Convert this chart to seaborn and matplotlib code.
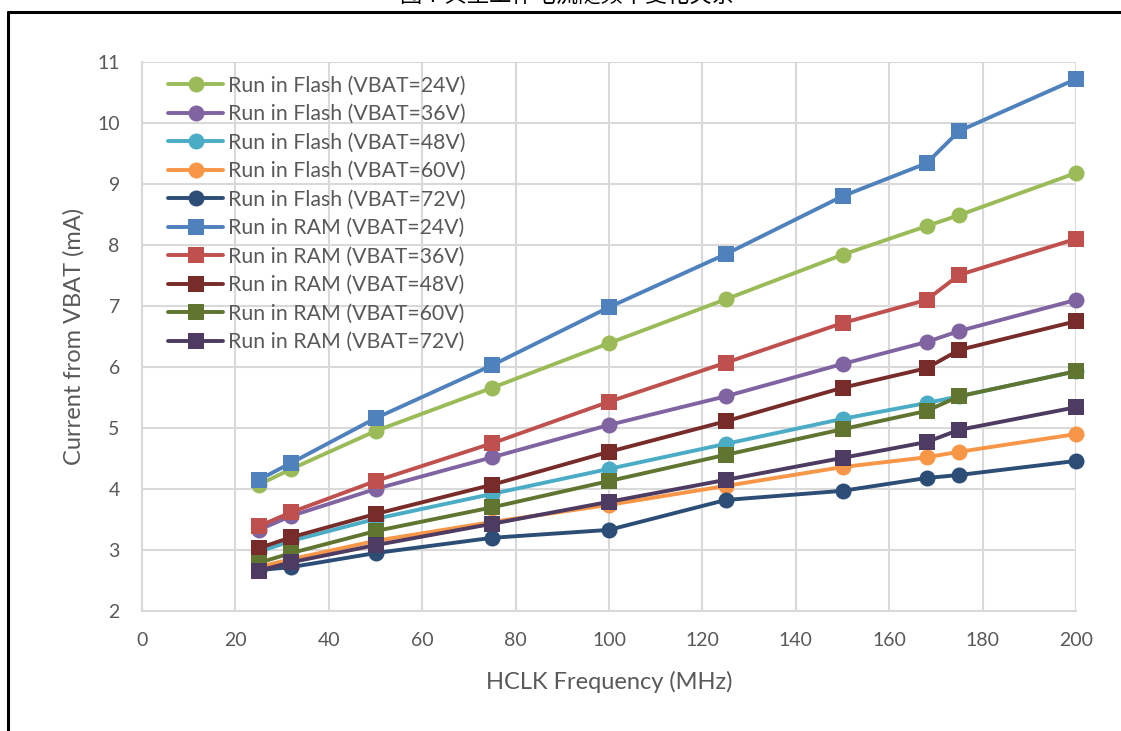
import matplotlib
matplotlib.use("Agg")
import matplotlib.pyplot as plt
import seaborn as sns
from matplotlib.lines import Line2D

# HCLK frequency (MHz)
freq = [25, 32, 50, 75, 100, 125, 150, 168, 175, 200]

# current from VBAT (mA)
flash_24 = [4.07, 4.33, 4.95, 5.66, 6.39, 7.11, 7.84, 8.31, 8.49, 9.18]
flash_36 = [3.33, 3.56, 4.00, 4.52, 5.05, 5.52, 6.05, 6.41, 6.59, 7.10]
flash_48 = [2.97, 3.15, 3.51, 3.92, 4.33, 4.74, 5.15, 5.41, 5.52, 5.93]
flash_60 = [2.72, 2.85, 3.15, 3.46, 3.74, 4.05, 4.36, 4.52, 4.61, 4.90]
flash_72 = [2.67, 2.72, 2.95, 3.20, 3.33, 3.82, 3.97, 4.18, 4.23, 4.46]
ram_24 = [4.15, 4.43, 5.16, 6.03, 6.98, 7.85, 8.80, 9.34, 9.87, 10.72]
ram_36 = [3.39, 3.62, 4.13, 4.75, 5.43, 6.07, 6.72, 7.10, 7.51, 8.10]
ram_48 = [3.03, 3.21, 3.59, 4.07, 4.61, 5.11, 5.66, 5.98, 6.28, 6.75]
ram_60 = [2.79, 2.95, 3.31, 3.70, 4.13, 4.56, 4.98, 5.28, 5.52, 5.93]
ram_72 = [2.66, 2.80, 3.08, 3.43, 3.79, 4.15, 4.51, 4.77, 4.97, 5.34]

labels = ["Run in Flash (VBAT=24V)", "Run in Flash (VBAT=36V)",
          "Run in Flash (VBAT=48V)", "Run in Flash (VBAT=60V)",
          "Run in Flash (VBAT=72V)", "Run in RAM (VBAT=24V)",
          "Run in RAM (VBAT=36V)", "Run in RAM (VBAT=48V)",
          "Run in RAM (VBAT=60V)", "Run in RAM (VBAT=72V)"]
series = [flash_24, flash_36, flash_48, flash_60, flash_72,
          ram_24, ram_36, ram_48, ram_60, ram_72]
colors = ["#9BBB59", "#8064A2", "#4BACC6", "#F79646", "#2C4D75",
          "#4F81BD", "#C0504D", "#772C2A", "#5F7530", "#4D3B62"]
markers = ["o"] * 5 + ["s"] * 5

sns.set_style("white")
plt.rcParams["font.family"] = ["Lato", "Noto Sans CJK SC", "DejaVu Sans"]
grey = "#595959"

fig = plt.figure(figsize=(11.21, 7.31), dpi=100)
ax = fig.add_axes([142 / 1121, 120 / 731, 934 / 1121, 549 / 731])

for vals, lab, col, mk in zip(series, labels, colors, markers):
    sns.lineplot(x=freq, y=vals, ax=ax, color=col, marker=mk, label=lab,
                 linewidth=2.8, markersize=11.5 if mk == "o" else 11,
                 markeredgewidth=0, clip_on=False)

ax.set_xlim(0, 200)
ax.set_ylim(2, 11)
ax.set_xticks(range(0, 201, 20))
ax.set_yticks(range(2, 12))
ax.grid(True, color="#d9d9d9", linewidth=1.5)
ax.set_axisbelow(True)
for s in ["top", "right"]:
    ax.spines[s].set_visible(False)
for s in ["left", "bottom"]:
    ax.spines[s].set_color("#d9d9d9")
    ax.spines[s].set_linewidth(1.5)
ax.tick_params(colors=grey, labelsize=14, length=0)
ax.tick_params(axis="x", pad=15)
ax.tick_params(axis="y", pad=16)
ax.set_xlabel("HCLK Frequency (MHz)", color=grey, fontsize=17, labelpad=16)
ax.set_ylabel("Current from VBAT (mA)", color=grey, fontsize=17, labelpad=9)

leg = ax.legend(loc="upper left", bbox_to_anchor=(0.012, 1.002), frameon=False,
                fontsize=15.3, labelspacing=0.4, handlelength=2.6,
                handletextpad=0.2, borderaxespad=0.3)
for t in leg.get_texts():
    t.set_color(grey)

# frame around the picture, cut by the page edge
fig.add_artist(Line2D([8 / 1121, 8 / 1121], [0, 1 - 12 / 731],
                      transform=fig.transFigure, color="black", linewidth=2.2))
fig.add_artist(Line2D([8 / 1121, 1], [1 - 12 / 731, 1 - 12 / 731],
                      transform=fig.transFigure, color="black", linewidth=2.2))

# title cut off at the top of the page
fig.text(567 / 1121, 1 - 8 / 731, "图 7 典型工作电流随频率变化关系",
         ha="center", va="bottom", fontsize=16, color="black",
         family=["Noto Sans CJK SC", "DejaVu Sans"])

fig.savefig("out.png", dpi=100)
